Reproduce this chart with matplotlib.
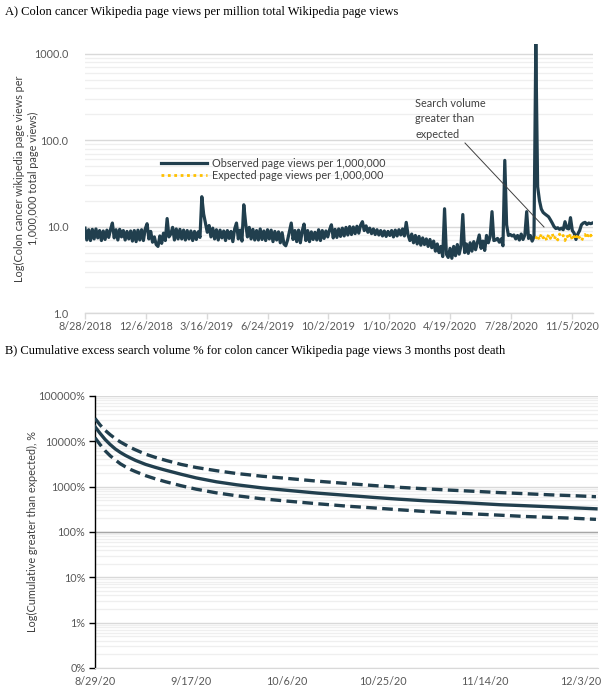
import matplotlib
matplotlib.use('Agg')
import matplotlib.pyplot as plt
import numpy as np
from matplotlib.ticker import FixedLocator, NullFormatter, FixedFormatter

# ---------------- data ----------------
# Panel A: observed page views per 1,000,000 (sampled every 3 days from 8/28/2018)
observed = [
    9.6, 7.0, 9.2, 6.9, 9.3, 7.2, 9.4, 7.4, 9.0, 6.9, 8.9, 7.1, 9.1, 7.5, 9.3, 11.0, 7.4, 9.2, 7.0, 9.3,
    7.6, 9.0, 7.0, 8.8, 7.2, 8.9, 6.8, 9.0, 6.7, 9.1, 7.0, 9.2, 6.9, 9.4, 10.8, 7.2, 8.8, 6.6, 7.6, 6.2,
    5.9, 7.8, 6.4, 8.4, 6.9, 12.4, 7.6, 8.2, 9.8, 7.0, 9.4, 7.2, 9.3, 7.2, 9.1, 7.0, 9.0, 7.2, 8.9, 6.9,
    8.8, 7.1, 8.7, 7.5, 22.2, 14.0, 11.0, 8.6, 10.3, 7.6, 9.6, 7.2, 9.2, 7.0, 9.1, 7.4, 8.9, 6.9, 9.0, 7.3,
    8.8, 6.7, 9.4, 11.0, 7.2, 9.1, 6.8, 17.9, 11.0, 7.6, 9.8, 7.2, 9.3, 7.0, 9.0, 7.0, 9.4, 7.1, 8.9, 6.9,
    9.2, 7.2, 9.1, 6.7, 8.8, 7.0, 8.7, 6.5, 8.5, 6.3, 6.0, 7.0, 8.8, 11.0, 7.1, 9.0, 6.7, 9.1, 6.5, 8.9,
    10.7, 6.9, 9.0, 6.7, 8.7, 7.1, 8.6, 7.0, 9.2, 6.9, 9.0, 7.3, 8.9, 7.6, 9.2, 10.5, 7.4, 9.3, 7.5, 9.4,
    7.7, 9.6, 7.8, 9.8, 8.0, 10.0, 8.1, 9.9, 8.3, 10.1, 8.4, 10.4, 11.4, 9.0, 10.2, 8.6, 9.6, 8.3, 9.4, 8.1,
    9.2, 8.0, 9.0, 7.8, 8.9, 7.7, 8.8, 7.9, 9.0, 7.6, 9.1, 7.8, 9.2, 8.0, 9.4, 7.8, 11.2, 8.0, 6.9, 8.2,
    6.5, 7.9, 6.3, 7.7, 6.1, 7.4, 6.2, 7.2, 5.9, 7.1, 5.7, 6.8, 5.2, 6.3, 5.0, 5.9, 4.5, 16.1, 4.8, 4.4,
    5.6, 4.3, 5.9, 4.6, 6.2, 4.8, 6.0, 13.8, 5.0, 6.3, 4.9, 6.5, 5.2, 6.7, 5.4, 6.6, 8.0, 5.6, 6.8, 5.3,
    7.9, 6.5, 7.7, 14.9, 6.9, 7.0, 7.3, 6.6, 7.2, 6.0, 58.4, 10.5, 7.9, 8.1, 7.8, 8.0, 7.2, 7.9, 7.0, 8.2,
    7.1, 8.0, 14.9, 7.3, 7.9, 6.8, 7.6,
    1300, 29, 20, 16, 14.6, 14, 13.5, 13, 12, 11, 10, 9.5, 9.7, 9.3, 9.6, 9.2,
    11.4, 9.6, 9.4, 12.7, 9.0, 8.4, 7.1, 8.2, 9.0, 10.5, 11.0, 11.2, 10.6, 11.0, 10.8, 11.0,
]
expected = [
    7.2, 8.0, 7.0, 8.2, 7.4, 7.9, 6.9, 8.1, 7.3, 8.3, 7.1, 7.8, 7.0, 8.2, 7.5, 7.9,
    6.9, 8.0, 7.2, 8.3, 7.0, 7.7, 7.1, 8.2, 7.4, 6.8, 7.6, 8.1, 7.3, 8.4, 7.8, 8.2,
]
a_tick_days = [0, 100, 200, 300, 400, 500, 600, 700, 800]
a_tick_labels = ['8/28/2018', '12/6/2018', '3/16/2019', '6/24/2019', '10/2/2019',
                 '1/10/2020', '4/19/2020', '7/28/2020', '11/5/2020']
a_yticks = [1, 10, 100, 1000]
a_ylabels = ['1.0', '10.0', '100.0', '1000.0']

# Panel B: cumulative excess search volume (1 = 100%)
b_days = [0, 1, 2, 3, 4, 5, 6, 7, 8, 10, 12, 14, 17, 20, 24, 28, 33, 38, 44, 50, 55, 60, 65, 70, 75, 80, 85, 90, 95, 99]
b_upper = [320, 230, 175, 140, 115, 97, 84, 73, 65, 52, 44, 38, 31, 26.5, 22.5, 19.5, 17, 15.2, 13.2, 11.7,
           10.6, 9.7, 9.0, 8.4, 7.9, 7.4, 7.0, 6.6, 6.3, 6.0]
b_mid = [210, 150, 110, 85, 68, 57, 49, 43, 38, 31, 26.5, 23, 18.8, 15.6, 12.8, 11, 9.4, 8.3, 7.2, 6.4,
         5.8, 5.3, 4.9, 4.6, 4.3, 4.0, 3.8, 3.6, 3.4, 3.25]
b_lower = [120, 85, 62, 48, 39, 32, 27.5, 24, 21.5, 17.5, 14.8, 12.8, 10.5, 8.8, 7.3, 6.3, 5.4, 4.8, 4.2, 3.7,
           3.4, 3.1, 2.85, 2.65, 2.5, 2.35, 2.2, 2.1, 2.0, 1.9]
b_tick_days = [0, 19, 38, 57, 77, 96]
b_tick_labels = ['8/29/20', '9/17/20', '10/6/20', '10/25/20', '11/14/20', '12/3/20']
b_yticks = [1e-3, 1e-2, 1e-1, 1, 10, 100, 1000]
b_ylabels = ['0%', '1%', '10%', '100%', '1000%', '10000%', '100000%']

# ---------------- styling ----------------
W, H = 612, 691
DARK = '#213f4e'
GOLD = '#ffc000'
TICKC = '#595959'
SANS = ['Lato', 'DejaVu Sans']
SERIF = ['Liberation Serif', 'DejaVu Serif']

fig = plt.figure(figsize=(W / 100, H / 100), dpi=100)
fig.patch.set_facecolor('white')

def rect(l, t, r, b):
    return [l / W, 1 - b / H, (r - l) / W, (b - t) / H]

def minor_positions(lo_exp, hi_exp):
    out = []
    for e in range(lo_exp, hi_exp):
        for k in range(2, 10):
            out.append(k * 10.0 ** e)
    return out

# ---------------- Panel A ----------------
axA = fig.add_axes(rect(85, 44, 593, 313))
days = np.arange(len(observed)) * 3
exp_days = days[len(observed) - len(expected):]
axA.set_yscale('log')
axA.set_ylim(1, 1300)
axA.set_xlim(0, days[-1] + 1)
axA.yaxis.set_major_locator(FixedLocator(a_yticks))
axA.yaxis.set_major_formatter(FixedFormatter(a_ylabels))
axA.yaxis.set_minor_locator(FixedLocator(minor_positions(0, 4)))
axA.yaxis.set_minor_formatter(NullFormatter())
axA.grid(True, which='major', axis='y', color='#d9d9d9', lw=1.0)
axA.grid(True, which='minor', axis='y', color='#efefef', lw=0.9)
axA.set_axisbelow(True)
for s in ['top', 'right', 'left']:
    axA.spines[s].set_visible(False)
axA.spines['bottom'].set_color('#d9d9d9')
axA.spines['bottom'].set_linewidth(1.0)
axA.tick_params(axis='y', which='both', length=0, pad=12, labelsize=7.8, labelcolor=TICKC)
axA.tick_params(axis='x', which='major', length=4, color='#d9d9d9', width=1.0, pad=2,
                labelsize=7.8, labelcolor=TICKC)
axA.set_xticks(a_tick_days)
axA.set_xticklabels(a_tick_labels)
for lab in axA.get_xticklabels() + axA.get_yticklabels():
    lab.set_family(SANS)

axA.plot(days, observed, color=DARK, lw=2.3, solid_joinstyle='round', label='Observed page views per 1,000,000', zorder=3)
axA.plot(exp_days, expected, color=GOLD, lw=2.0, ls=(0, (1, 1.3)), label='Expected page views per 1,000,000', zorder=4)

leg = axA.legend(loc='upper left', bbox_to_anchor=((153 - 85) / 508, (313 - 150) / 269), frameon=False,
                 prop={'family': SANS, 'size': 7.8}, handlelength=4.3, handletextpad=0.4,
                 labelspacing=0.12, borderpad=0.2, labelcolor='#404040')

fig.text(415 / W, 1 - 119 / H, 'Search volume\ngreater than\nexpected', transform=fig.transFigure,
         family=SANS, fontsize=7.8, color='#404040', va='center', ha='left', linespacing=1.45)
fig.add_artist(plt.Line2D([465 / W, 544 / W], [1 - 143 / H, 1 - 227 / H], color='#404040', lw=0.7,
                          transform=fig.transFigure))

axA.set_ylabel('Log(Colon cancer wikipedia page views per\n1,000,000 total page views)',
               family=SANS, fontsize=7.8, color='#404040', linespacing=1.35)
axA.yaxis.set_label_coords(-(85 - 39) / 508, 0.5)

fig.text(5 / W, 1 - 12 / H, 'A) Colon cancer Wikipedia page views per million total Wikipedia page views',
         family=SERIF, fontsize=9, va='center', ha='left', color='black')

# ---------------- Panel B ----------------
axB = fig.add_axes(rect(95, 396, 598, 668))
axB.set_yscale('log')
axB.set_ylim(1e-3, 1e3)
axB.set_xlim(0, 99.4)
axB.yaxis.set_major_locator(FixedLocator(b_yticks))
axB.yaxis.set_major_formatter(FixedFormatter(b_ylabels))
axB.yaxis.set_minor_locator(FixedLocator(minor_positions(-3, 3)))
axB.yaxis.set_minor_formatter(NullFormatter())
axB.grid(True, which='major', axis='y', color='#d9d9d9', lw=1.0)
axB.grid(True, which='minor', axis='y', color='#efefef', lw=0.9)
axB.set_axisbelow(True)
for s in ['top', 'right']:
    axB.spines[s].set_visible(False)
axB.spines['left'].set_color('black')
axB.spines['left'].set_linewidth(1.0)
axB.spines['bottom'].set_color('#d9d9d9')
axB.axhline(1, color='#a6a6a6', lw=1.0, zorder=2)
axB.tick_params(axis='y', which='major', length=4, color='black', width=1.0, pad=3,
                labelsize=7.8, labelcolor=TICKC)
axB.tick_params(axis='y', which='minor', length=0)
axB.tick_params(axis='x', which='major', length=0, pad=6, labelsize=7.8, labelcolor=TICKC)
axB.set_xticks(b_tick_days)
axB.set_xticklabels(b_tick_labels)
for lab in axB.get_xticklabels() + axB.get_yticklabels():
    lab.set_family(SANS)

axB.plot(b_days, b_upper, color=DARK, lw=2.4, ls=(0, (3.2, 1.6)), zorder=3)
axB.plot(b_days, b_mid, color=DARK, lw=2.4, zorder=3)
axB.plot(b_days, b_lower, color=DARK, lw=2.4, ls=(0, (3.2, 1.6)), zorder=3)

axB.set_ylabel('Log(Cumulative greater than expected), %', family=SANS, fontsize=7.8, color='#404040')
axB.yaxis.set_label_coords(-(95 - 38) / 503, 0.5)

fig.text(5 / W, 1 - 351 / H, 'B) Cumulative excess search volume % for colon cancer Wikipedia page views 3 months post death',
         family=SERIF, fontsize=9, va='center', ha='left', color='black')

fig.savefig('out.png', dpi=100, facecolor='white')
